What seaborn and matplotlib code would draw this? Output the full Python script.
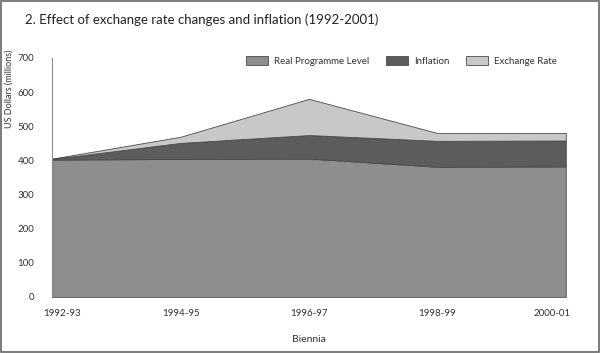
"""Stacked area chart: effect of exchange rate changes and inflation (1992-2001)."""

import matplotlib
matplotlib.use("Agg")
import matplotlib.pyplot as plt
import seaborn as sns

# Data (US$ millions, stacked components)
biennia = ["1992-93", "1994-95", "1996-97", "1998-99", "2000-01"]
real_level = [402, 404, 405, 381, 382]
inflation = [2, 47, 69, 76, 76]
exchange_rate = [1, 18, 106, 23, 22]
series_labels = ["Real Programme Level", "Inflation", "Exchange Rate"]
y_ticks = [0, 100, 200, 300, 400, 500, 600, 700]

colors = ["#8e8e8e", "#5c5c5c", "#c8c8c8"]

sns.set_theme(style="white")
plt.rcParams["font.family"] = ["Lato", "DejaVu Sans"]

fig = plt.figure(figsize=(6, 3.53), dpi=100)
ax = fig.add_axes([0.087, 0.159, 0.856, 0.677])

x = list(range(len(biennia)))
ax.stackplot(x, real_level, inflation, exchange_rate,
             labels=series_labels, colors=colors,
             edgecolor="#4a4a4a", linewidth=0.6)

ax.set_xlim(0, len(biennia) - 1)
ax.set_ylim(0, 700)
# the original puts the end ticks a little inside the plotted area
tick_pos = [i for i in x]
tick_pos[0] += 0.08
tick_pos[-1] -= 0.11
ax.set_xticks(tick_pos)
ax.set_xticklabels(biennia)
ax.set_yticks(y_ticks)

text_col = "#333333"
ax.tick_params(axis="x", direction="in", length=5, width=0.8,
               colors="#333333", labelcolor=text_col, labelsize=7, pad=9)
ax.tick_params(axis="y", direction="in", length=5, width=0.8,
               colors="#888888", labelcolor=text_col, labelsize=7, pad=13)

for side in ["top", "right", "bottom"]:
    ax.spines[side].set_visible(False)
ax.spines["left"].set_color("#888888")
ax.spines["left"].set_linewidth(0.8)

ax.set_ylabel("US Dollars (millions)", fontsize=6.5, color=text_col)
ax.yaxis.set_label_coords(-0.076, 0.87)
ax.set_xlabel("Biennia", fontsize=7.5, color=text_col, labelpad=12)

ax.legend(loc="upper right", ncol=3, frameon=False, fontsize=7,
          handlelength=2.3, handleheight=1.0, handletextpad=0.6,
          columnspacing=1.7, bbox_to_anchor=(1.0, 1.045), labelcolor=text_col)

fig.text(0.042, 0.945, "2. Effect of exchange rate changes and inflation (1992-2001)",
         fontsize=9.5, color="#222222", va="center", ha="left")

# thin frame around the whole picture
fig.patches.append(plt.Rectangle((0.001, 0.002), 0.997, 0.995, transform=fig.transFigure,
                                 fill=False, edgecolor="#666666", linewidth=1.2))

fig.savefig("out.png", dpi=100, facecolor="white")
